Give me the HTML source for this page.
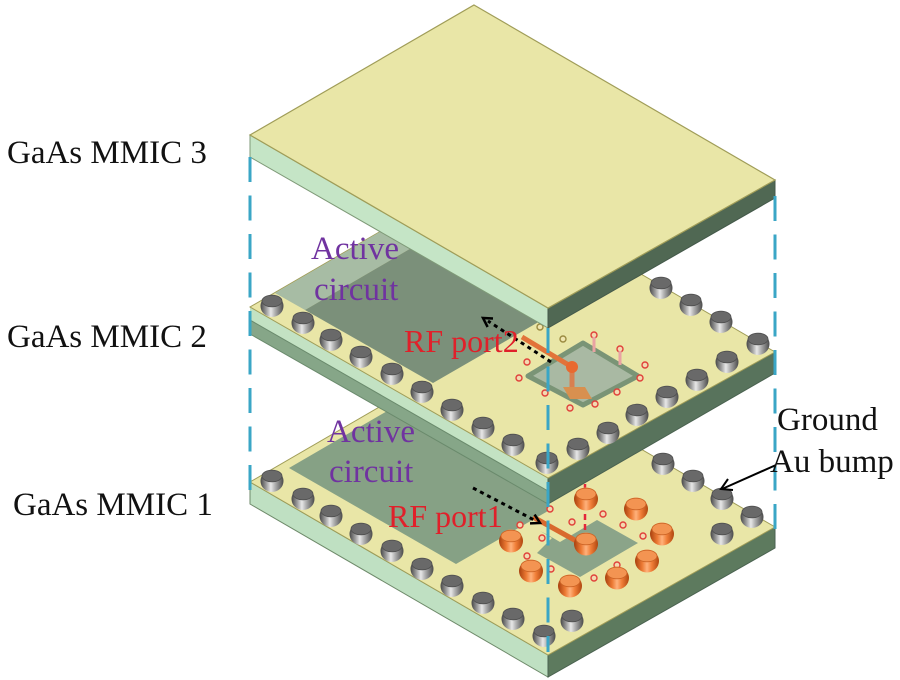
<!DOCTYPE html>
<html><head><meta charset="utf-8"><style>
html,body{margin:0;padding:0;background:#fff;}
svg{display:block;}
text{font-family:"Liberation Serif",serif;}
</style></head><body>
<svg width="900" height="680" viewBox="0 0 900 680" xmlns="http://www.w3.org/2000/svg">
<defs>
<linearGradient id="gb" x1="0" x2="1" y1="0" y2="0">
<stop offset="0" stop-color="#474747"/><stop offset="0.25" stop-color="#9c9c9c"/><stop offset="0.45" stop-color="#e8e8e8"/><stop offset="0.62" stop-color="#b3b3b3"/><stop offset="1" stop-color="#4a4a4a"/>
</linearGradient>
<linearGradient id="ob" x1="0" x2="1" y1="0" y2="0">
<stop offset="0" stop-color="#a8400e"/><stop offset="0.3" stop-color="#ec7a34"/><stop offset="0.5" stop-color="#ffb27c"/><stop offset="0.7" stop-color="#f07e38"/><stop offset="1" stop-color="#b0460f"/>
</linearGradient>
<g id="gbump">
<ellipse cx="0" cy="1" rx="11.5" ry="11" fill="url(#gb)"/>
<ellipse cx="0" cy="-4" rx="10" ry="5.8" fill="#696969" stroke="#4f4f4f" stroke-width="0.8"/>
</g>
<g id="obump">
<ellipse cx="0" cy="1" rx="12" ry="11.5" fill="url(#ob)"/>
<ellipse cx="0" cy="-4" rx="10" ry="5.8" fill="#f39452" stroke="#cc6426" stroke-width="0.8"/>
</g>
<circle id="via" r="3" fill="#f3d9b0" stroke="#e0403a" stroke-width="1.4"/>
<circle id="viao" r="3" fill="#f0e6b0" stroke="#9a8a40" stroke-width="1.4"/>
</defs>

<!-- ============ BOTTOM PLATE (MMIC 1) ============ -->
<polygon points="250,482 548,655 548,677 250,504" fill="#bfe0c2" stroke="#6e8a6a" stroke-width="1"/>
<polygon points="548,655 775,527 775,548 548,677" fill="#5d7a5e" stroke="#4a6250" stroke-width="1"/>
<polygon points="474,352 775,527 548,655 250,482" fill="#e9e6a7" stroke="#a09d58" stroke-width="1"/>
<!-- active circuit -->
<polygon points="289,468 456,564 548,511 548,400 470,363" fill="#86a185"/>
<polygon points="540,531 552,538 537,553 580,577 638,543 597,520 560,542 548,535" fill="#8ba489"/>
<!-- vias -->
<use href="#via" x="550" y="509"/><use href="#via" x="572" y="522"/><use href="#via" x="603" y="514"/>
<use href="#via" x="623" y="525"/><use href="#via" x="643" y="536"/><use href="#via" x="617" y="565"/>
<use href="#via" x="594" y="578"/><use href="#via" x="551" y="569"/><use href="#via" x="542" y="538"/>
<use href="#via" x="527" y="556"/><use href="#via" x="520" y="525"/>
<!-- orange line -->
<line x1="533" y1="517" x2="580" y2="543" stroke="#d9692e" stroke-width="5"/>
<line x1="585" y1="474" x2="585" y2="535" stroke="#e4283a" stroke-width="2.5" stroke-dasharray="6 4"/>
<!-- bumps -->
<use href="#gbump" x="663" y="463"/><use href="#gbump" x="272" y="480"/><use href="#gbump" x="693" y="480"/>
<use href="#obump" x="586" y="498"/><use href="#gbump" x="303" y="498"/><use href="#gbump" x="722" y="498"/>
<use href="#obump" x="636" y="508"/><use href="#gbump" x="331" y="515"/><use href="#gbump" x="752" y="516"/>
<use href="#obump" x="662" y="533"/><use href="#gbump" x="722" y="533"/><use href="#gbump" x="361" y="533"/>
<use href="#obump" x="511" y="540"/><use href="#obump" x="586" y="543"/><use href="#gbump" x="392" y="550"/>
<use href="#obump" x="647" y="560"/><use href="#gbump" x="422" y="568"/><use href="#obump" x="531" y="570"/>
<use href="#obump" x="617" y="577"/><use href="#obump" x="570" y="585"/><use href="#gbump" x="452" y="585"/>
<use href="#gbump" x="483" y="602"/><use href="#gbump" x="513" y="618"/><use href="#gbump" x="572" y="620"/>
<use href="#gbump" x="544" y="635"/>

<!-- ============ MIDDLE PLATE (MMIC 2) ============ -->
<polygon points="250,307 548,478 548,491 250,320" fill="#c3e2c3"/>
<polygon points="250,320 548,491 548,504 250,334" fill="#86a688" stroke="#6a8a6c" stroke-width="1"/>
<polygon points="548,478 775,352 775,373 548,504" fill="#58735c" stroke="#4a6250" stroke-width="1"/>
<polygon points="474,177 775,352 548,478 250,307" fill="#e9e6a7" stroke="#a09d58" stroke-width="1"/>
<!-- active circuit -->
<polygon points="275,293 305,310 504,194 474,177" fill="#a7bca4"/>
<polygon points="305,310 433,383 632,268 504,194" fill="#7b907a"/>
<!-- pad -->
<polygon points="528,376 583,343 638,376 583,405" fill="#a9b9a3" stroke="#7a9476" stroke-width="5" stroke-linejoin="round"/>
<!-- vias -->
<use href="#viao" x="540" y="327"/><use href="#viao" x="563" y="339"/>
<use href="#via" x="594" y="335"/><use href="#via" x="620" y="349"/><use href="#via" x="645" y="365"/>
<use href="#via" x="640" y="378"/><use href="#via" x="617" y="392"/><use href="#via" x="595" y="404"/>
<use href="#via" x="570" y="408"/><use href="#via" x="545" y="393"/><use href="#via" x="519" y="378"/>
<use href="#via" x="527" y="362"/>
<line x1="594" y1="337" x2="594" y2="352" stroke="#e9a3a3" stroke-width="3"/>
<line x1="620" y1="351" x2="620" y2="365" stroke="#e9a3a3" stroke-width="3"/>
<!-- orange feed -->
<line x1="522" y1="337" x2="572" y2="367" stroke="#e2733a" stroke-width="5"/>
<line x1="572" y1="367" x2="572" y2="389" stroke="#d88050" stroke-width="5"/>
<polygon points="563,387 585,387 592,399 570,399" fill="#d8904f"/>
<circle cx="572" cy="367" r="6" fill="#e86a30"/>
<!-- bumps -->
<use href="#gbump" x="661" y="287"/><use href="#gbump" x="272" y="305"/><use href="#gbump" x="691" y="304"/>
<use href="#gbump" x="721" y="321"/><use href="#gbump" x="303" y="322"/><use href="#gbump" x="331" y="339"/>
<use href="#gbump" x="758" y="343"/><use href="#gbump" x="361" y="356"/><use href="#gbump" x="727" y="361"/>
<use href="#gbump" x="392" y="373"/><use href="#gbump" x="697" y="379"/><use href="#gbump" x="422" y="391"/>
<use href="#gbump" x="667" y="396"/><use href="#gbump" x="452" y="409"/><use href="#gbump" x="637" y="414"/>
<use href="#gbump" x="483" y="427"/><use href="#gbump" x="608" y="432"/><use href="#gbump" x="513" y="444"/>
<use href="#gbump" x="578" y="448"/><use href="#gbump" x="547" y="462"/>

<!-- ============ TOP PLATE (MMIC 3) ============ -->
<polygon points="250,135 548,308 548,328 250,157" fill="#c5e5c6" stroke="#7f9a78" stroke-width="1"/>
<polygon points="548,308 775,180 775,198 548,328" fill="#506853" stroke="#44594a" stroke-width="1"/>
<polygon points="474,5 775,180 548,308 250,135" fill="#e9e6a7" stroke="#a09d58" stroke-width="1.2"/>

<!-- dashed guide lines -->
<line x1="250" y1="157" x2="250" y2="490" stroke="#3aa6c6" stroke-width="3" stroke-dasharray="25 13.5"/>
<line x1="775" y1="196" x2="775" y2="530" stroke="#3aa6c6" stroke-width="3" stroke-dasharray="25 13.5"/>
<line x1="548" y1="328" x2="548" y2="652" stroke="#3aa6c6" stroke-width="3" stroke-dasharray="25 13.5"/>

<!-- dotted arrows -->
<line x1="551" y1="362" x2="488" y2="321" stroke="#000" stroke-width="3" stroke-dasharray="4 4"/>
<polyline points="493,318.5 483,318 487.6,327" fill="none" stroke="#000" stroke-width="2.5"/>
<line x1="473" y1="488" x2="536" y2="521" stroke="#000" stroke-width="3" stroke-dasharray="4 4"/>
<polyline points="534.6,514.6 540,523 530,523.4" fill="none" stroke="#000" stroke-width="2.5"/>
<!-- ground arrow -->
<line x1="776" y1="465" x2="722" y2="489" stroke="#000" stroke-width="2"/>
<polyline points="733,490 721,489 728,479" fill="none" stroke="#000" stroke-width="2"/>

<!-- labels -->
<text x="7" y="163" font-size="33" fill="#111">GaAs MMIC 3</text>
<text x="7" y="347" font-size="33" fill="#111">GaAs MMIC 2</text>
<text x="13" y="515" font-size="33" fill="#111">GaAs MMIC 1</text>
<text x="311" y="259" font-size="33" fill="#7033a0">Active</text>
<text x="314" y="300" font-size="33" fill="#7033a0">circuit</text>
<text x="327" y="442" font-size="33" fill="#7033a0">Active</text>
<text x="329" y="482" font-size="33" fill="#7033a0">circuit</text>
<text x="404" y="352" font-size="32" fill="#e0202a">RF port2</text>
<text x="388" y="527" font-size="32" fill="#e0202a">RF port1</text>
<text x="777" y="430" font-size="33" fill="#111">Ground</text>
<text x="770" y="472" font-size="33" fill="#111">Au bump</text>
</svg>
</body></html>
